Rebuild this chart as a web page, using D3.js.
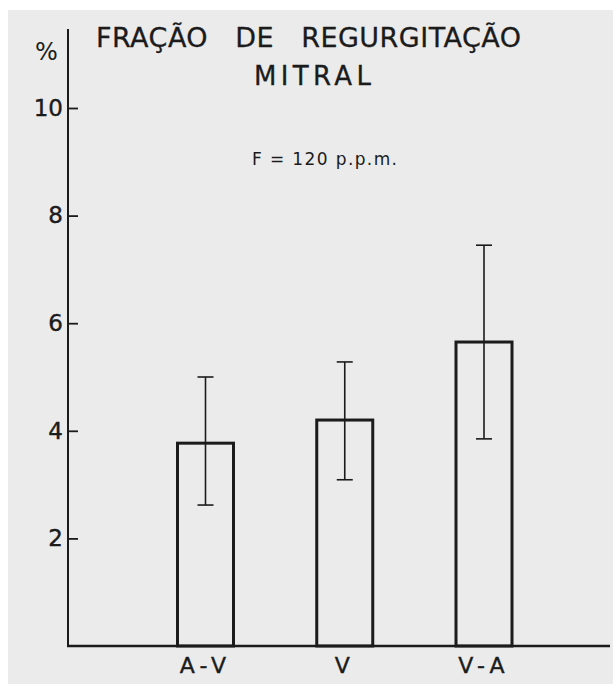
<!DOCTYPE html>
<html>
<head>
<meta charset="utf-8">
<script src="https://cdn.jsdelivr.net/npm/d3@7"></script>
<style>
  html, body { margin: 0; padding: 0; background: #fff; }
  svg { display: block; }
  text { white-space: pre; }
</style>
</head>
<body>
<svg id="chart"></svg>
<script>
// data
const categories = ['A-V', 'V', 'V-A'];
const means = [3.77, 4.2, 5.65];
const upper = [5.0, 5.28, 7.45];
const lower = [2.62, 3.09, 3.85];
const yTicks = [2, 4, 6, 8, 10];

const W = 613, H = 684;
const ink = '#1b1b1b';
const font = 'DejaVu Sans, Liberation Sans, sans-serif';

const svg = d3.select('#chart').attr('width', W).attr('height', H);

// paper background with white scan border
svg.append('rect').attr('width', W).attr('height', H).attr('fill', '#fff');
svg.append('rect').attr('x', 8).attr('y', 10).attr('width', W - 8).attr('height', H - 10).attr('fill', '#ebebeb');

const axisX = 68;
const baseY = 646;

const y = d3.scaleLinear().domain([0, 10]).range([baseY, 108]);
const x = d3.scalePoint().domain(categories).range([205.5, 484]);
const barW = 56;

// y axis ticks + labels
const yAxis = svg.append('g')
  .attr('transform', `translate(${axisX},0)`)
  .call(d3.axisLeft(y).tickValues(yTicks).tickSizeInner(-10).tickSizeOuter(0).tickPadding(5));
yAxis.select('.domain').remove();
yAxis.selectAll('line').attr('stroke', ink).attr('stroke-width', 1.8);
yAxis.selectAll('text')
  .attr('fill', ink)
  .attr('stroke', ink).attr('stroke-width', 0.4)
  .style('font-family', font)
  .style('font-size', '23px');

// axis lines
svg.append('line')
  .attr('x1', axisX).attr('x2', axisX)
  .attr('y1', 29).attr('y2', baseY + 1)
  .attr('stroke', ink).attr('stroke-width', 2);
svg.append('line')
  .attr('x1', axisX - 1).attr('x2', 610)
  .attr('y1', baseY).attr('y2', baseY)
  .attr('stroke', ink).attr('stroke-width', 2.5);

// bars
svg.selectAll('.bar')
  .data(categories)
  .enter().append('rect')
  .attr('class', 'bar')
  .attr('x', d => x(d) - barW / 2)
  .attr('y', (d, i) => y(means[i]))
  .attr('width', barW)
  .attr('height', (d, i) => baseY - y(means[i]))
  .attr('fill', 'none')
  .attr('stroke', ink)
  .attr('stroke-width', 3);

// error bars
const err = svg.selectAll('.err')
  .data(categories)
  .enter().append('g')
  .attr('class', 'err')
  .attr('stroke', ink)
  .attr('stroke-width', 1.6);
err.append('line')
  .attr('x1', d => x(d)).attr('x2', d => x(d))
  .attr('y1', (d, i) => y(upper[i])).attr('y2', (d, i) => y(lower[i]));
err.append('line')
  .attr('x1', d => x(d) - 8).attr('x2', d => x(d) + 8)
  .attr('y1', (d, i) => y(upper[i])).attr('y2', (d, i) => y(upper[i]));
err.append('line')
  .attr('x1', d => x(d) - 8).attr('x2', d => x(d) + 8)
  .attr('y1', (d, i) => y(lower[i])).attr('y2', (d, i) => y(lower[i]));

// category labels (letter-spaced like the hand lettering)
svg.selectAll('.cat')
  .data(categories)
  .enter().append('text')
  .attr('class', 'cat')
  .attr('x', d => x(d))
  .attr('y', 673)
  .attr('text-anchor', 'middle')
  .attr('fill', ink)
  .attr('stroke', ink).attr('stroke-width', 0.4)
  .style('font-family', font)
  .style('font-size', '22px')
  .style('letter-spacing', '5px')
  .text(d => d);

// titles
svg.append('text')
  .attr('x', 35).attr('y', 60)
  .attr('fill', ink)
  .style('font-family', font)
  .style('font-size', '24px')
  .text('%');

svg.append('text')
  .attr('x', 96).attr('y', 47)
  .attr('textLength', 425).attr('lengthAdjust', 'spacing')
  .attr('fill', ink)
  .attr('stroke', ink).attr('stroke-width', 0.3)
  .style('font-family', font)
  .style('font-size', '27px')
  .text('FRAÇÃO   DE   REGURGITAÇÃO');

svg.append('text')
  .attr('x', 254).attr('y', 85)
  .attr('textLength', 117).attr('lengthAdjust', 'spacing')
  .attr('fill', ink)
  .attr('stroke', ink).attr('stroke-width', 0.3)
  .style('font-family', font)
  .style('font-size', '26px')
  .text('MITRAL');

svg.append('text')
  .attr('x', 252).attr('y', 165)
  .attr('textLength', 145).attr('lengthAdjust', 'spacing')
  .attr('fill', ink)
  .style('font-family', font)
  .style('font-size', '17px')
  .text('F = 120 p.p.m.');
</script>
</body>
</html>
